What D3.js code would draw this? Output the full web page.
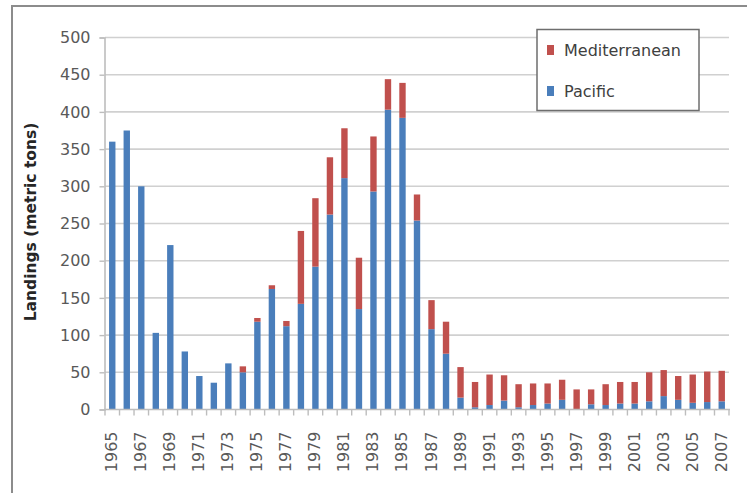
<!DOCTYPE html>
<html>
<head>
<meta charset="utf-8">
<script src="https://cdn.jsdelivr.net/npm/d3@7"></script>
<style>
  html, body { margin: 0; padding: 0; background: #fff; }
  svg { display: block; }
  text { font-family: "DejaVu Sans", sans-serif; }
</style>
</head>
<body>
<svg id="chart" width="747" height="493"></svg>
<script>
const years = d3.range(1965, 2008);
const pacific = [360, 375, 300, 103, 221, 78, 45, 36, 62, 50,
                 118, 162, 112, 142, 192, 262, 311, 135, 293, 403,
                 392, 254, 108, 75, 16, 3, 6, 12, 3, 6,
                 8, 13, 0, 7, 6, 8, 8, 11, 18, 13,
                 9, 10, 11];
const mediterranean = [0, 0, 0, 0, 0, 0, 0, 0, 0, 8,
                       5, 5, 7, 98, 92, 77, 67, 69, 74, 41,
                       47, 35, 39, 43, 41, 34, 41, 34, 31, 29,
                       27, 27, 27, 20, 28, 29, 29, 39, 35, 32,
                       38, 41, 41];
const seriesNames = ["Pacific", "Mediterranean"];
const seriesColors = ["#4a7ebb", "#c0504d"];
const yTicks = [0, 50, 100, 150, 200, 250, 300, 350, 400, 450, 500];
const xLabelYears = years.filter(y => (y - 1965) % 2 === 0);
const yTitle = "Landings (metric tons)";

const svg = d3.select("#chart");
const pLeft = 105, pRight = 729, pTop = 37.5, pBottom = 409.5;

// outer frame
svg.append("rect").attr("x", 12).attr("y", 6).attr("width", 760).attr("height", 520)
  .attr("fill", "none").attr("stroke", "#8c8c8c").attr("stroke-width", 2);

const x = d3.scaleBand().domain(years).range([pLeft, pRight]).paddingInner(0.56).paddingOuter(0.28);
const y = d3.scaleLinear().domain([0, 500]).range([pBottom, pTop]);

// gridlines
svg.append("g").selectAll("line").data(yTicks.filter(d => d > 0)).join("line")
  .attr("x1", pLeft).attr("x2", pRight)
  .attr("y1", d => y(d)).attr("y2", d => y(d))
  .attr("stroke", "#d0d0d0").attr("stroke-width", 1.6);

// y axis
const yAxis = d3.axisLeft(y).tickValues(yTicks).tickSize(5).tickPadding(9);
const gy = svg.append("g").attr("transform", `translate(${pLeft - 0.5},0)`).call(yAxis);
gy.select(".domain").attr("stroke", "#bdbdbd").attr("stroke-width", 1.6);
gy.selectAll(".tick line").attr("stroke", "#bdbdbd").attr("stroke-width", 1.4);
gy.selectAll(".tick text").attr("font-size", 16).attr("fill", "#595959")
  .attr("font-family", "DejaVu Sans, sans-serif");

// bars
const table = years.map((yr, i) => ({ year: yr, Pacific: pacific[i], Mediterranean: mediterranean[i] }));
const stack = d3.stack().keys(seriesNames)(table);
svg.append("g").selectAll("g").data(stack).join("g")
  .attr("fill", (d, i) => seriesColors[i])
  .selectAll("rect").data(d => d).join("rect")
  .attr("x", d => x(d.data.year))
  .attr("width", x.bandwidth())
  .attr("y", d => y(d[1]))
  .attr("height", d => Math.max(0, y(d[0]) - y(d[1])));

// x axis
const step = x.step();
const gx = svg.append("g").attr("transform", `translate(0,${pBottom})`);
gx.append("line").attr("x1", pLeft - 1).attr("x2", pRight + 1).attr("y1", 0).attr("y2", 0)
  .attr("stroke", "#bdbdbd").attr("stroke-width", 1.6);
const boundaries = d3.range(years.length + 1).map(i => pLeft + i * step);
gx.selectAll("line.tk").data(boundaries).join("line").attr("class", "tk")
  .attr("x1", d => d).attr("x2", d => d).attr("y1", 0).attr("y2", 6)
  .attr("stroke", "#bdbdbd").attr("stroke-width", 1.4);
gx.selectAll("text").data(xLabelYears).join("text")
  .attr("transform", d => `translate(${x(d) + x.bandwidth() / 2 + 5},22) rotate(-90)`)
  .attr("text-anchor", "end")
  .attr("font-size", 16).attr("fill", "#595959")
  .text(d => d);

// y title
svg.append("text")
  .attr("transform", "translate(36,222) rotate(-90)")
  .attr("text-anchor", "middle")
  .attr("font-size", 15.5).attr("font-weight", "bold").attr("fill", "#262626")
  .text(yTitle);

// legend
const lg = svg.append("g");
lg.append("rect").attr("x", 537).attr("y", 29.5).attr("width", 162).attr("height", 81)
  .attr("fill", "#fff").attr("stroke", "#6e6e6e").attr("stroke-width", 1.5);
const legendItems = [
  { name: "Mediterranean", color: seriesColors[1], yy: 56 },
  { name: "Pacific", color: seriesColors[0], yy: 97 }
];
legendItems.forEach(it => {
  lg.append("rect").attr("x", 547).attr("y", it.yy - 11).attr("width", 7).attr("height", 10).attr("fill", it.color);
  lg.append("text").attr("x", 564).attr("y", it.yy).attr("font-size", 16).attr("fill", "#404040").text(it.name);
});
</script>
</body>
</html>
